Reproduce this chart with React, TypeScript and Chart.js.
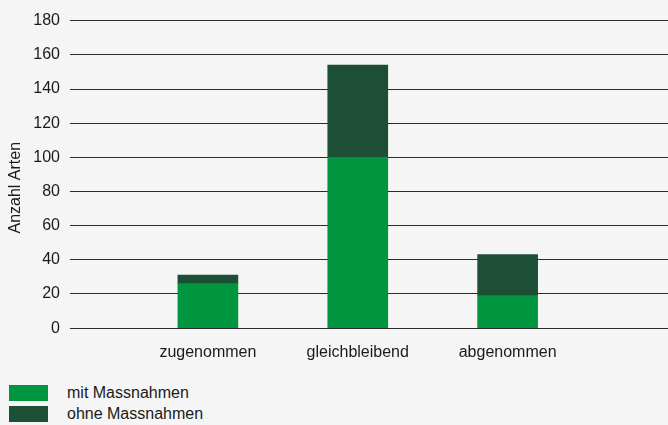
import { useEffect, useRef } from "react";
import { Chart, registerables } from "chart.js";

Chart.register(...registerables);

// Entwicklung der Artenzahlen, aufgeteilt nach Fördermassnahmen
const categories = ["zugenommen", "gleichbleibend", "abgenommen"];
const mitMassnahmen = [26, 100, 19];
const ohneMassnahmen = [5, 54, 24];
const seriesNames = ["mit Massnahmen", "ohne Massnahmen"];
const seriesColors = ["#009640", "#1d4e36"];
const yTickValues = [0, 20, 40, 60, 80, 100, 120, 140, 160, 180];
const yTitle = "Anzahl Arten";

const FONT = '"Liberation Sans", Arial, Helvetica, sans-serif';
const TEXT = "#1a1a1a";
const BG = "#f5f5f5";

export default function App() {
  const canvasRef = useRef<HTMLCanvasElement | null>(null);

  useEffect(() => {
    document.body.style.margin = "0";
    document.body.style.background = BG;
    const canvas = canvasRef.current;
    if (!canvas) return;

    const toPoints = (values: number[]) =>
      values.map((v, i) => ({ x: i + 1, y: v }));

    const chart = new Chart(canvas, {
      type: "bar",
      data: {
        datasets: [
          {
            label: seriesNames[0],
            data: toPoints(mitMassnahmen),
            backgroundColor: seriesColors[0],
            barThickness: 60,
          },
          {
            label: seriesNames[1],
            data: toPoints(ohneMassnahmen),
            backgroundColor: seriesColors[1],
            barThickness: 60,
          },
        ],
      },
      options: {
        animation: false,
        responsive: false,
        maintainAspectRatio: false,
        layout: { padding: { top: 20.7, right: 0, bottom: 3.7, left: 0 } },
        plugins: {
          legend: { display: false },
          tooltip: { enabled: false },
        },
        scales: {
          x: {
            type: "linear",
            min: 0.08,
            max: 4.07,
            offset: false,
            bounds: "data",
            stacked: true,
            grid: { display: false, drawTicks: false },
            border: { display: false },
            afterBuildTicks: (scale: any) => {
              scale.ticks = categories.map((_, i) => ({ value: i + 1 }));
            },
            ticks: {
              autoSkip: false,
              maxRotation: 0,
              padding: 15,
              color: TEXT,
              font: { family: FONT, size: 16 },
              callback: (v: any) => categories[Number(v) - 1] ?? "",
            },
          },
          y: {
            min: 0,
            max: 180,
            stacked: true,
            afterFit: (scale: any) => {
              scale.width = 70;
            },
            afterBuildTicks: (scale: any) => {
              scale.ticks = yTickValues.map((v) => ({ value: v }));
            },
            grid: { color: "#2b2b2b", lineWidth: 1, drawTicks: false },
            border: { display: false },
            ticks: {
              padding: 10,
              color: TEXT,
              font: { family: FONT, size: 16 },
            },
            title: {
              display: true,
              text: yTitle + "      ",
              color: TEXT,
              font: { family: FONT, size: 16 },
              padding: { top: 6.4, bottom: 0 },
            },
          },
        },
      },
    });

    return () => chart.destroy();
  }, []);

  return (
    <div
      style={{
        position: "relative",
        width: 668,
        height: 425,
        background: BG,
        overflow: "hidden",
        fontFamily: FONT,
      }}
    >
      <canvas
        ref={canvasRef}
        width={668}
        height={381}
        style={{ position: "absolute", left: 0, top: 0, width: 668, height: 381 }}
      />
      <div style={{ position: "absolute", left: 9, top: 385 }}>
        {seriesNames.map((name, i) => (
          <div
            key={name}
            style={{ display: "flex", alignItems: "center", height: 15.5, marginBottom: 5.5 }}
          >
            <span
              style={{
                display: "inline-block",
                width: 39,
                height: 15.5,
                background: seriesColors[i],
              }}
            />
            <span
              style={{
                marginLeft: 19,
                fontSize: 16,
                color: TEXT,
                lineHeight: "15.5px",
                whiteSpace: "nowrap",
              }}
            >
              {name}
            </span>
          </div>
        ))}
      </div>
    </div>
  );
}
